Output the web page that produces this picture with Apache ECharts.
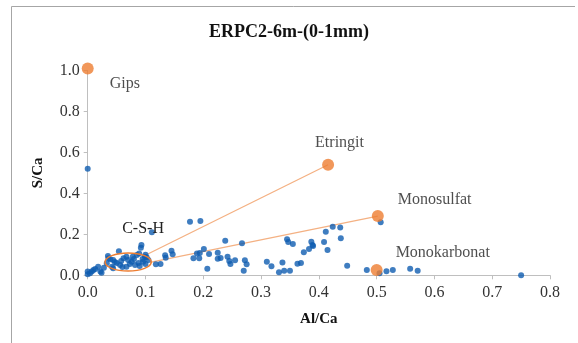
<!DOCTYPE html>
<html><head><meta charset="utf-8">
<script src="https://cdn.jsdelivr.net/npm/echarts@6/dist/echarts.min.js"></script>
<style>html,body{margin:0;padding:0;background:#fff}#c{width:578px;height:343px}</style>
</head><body><div id="c"></div>
<script>
const title = 'ERPC2-6m-(0-1mm)';
const xName = 'Al/Ca';
const yName = 'S/Ca';
const xTicks = {min: 0, max: 0.8, interval: 0.1};
const yTicks = {min: 0, max: 1.0, interval: 0.2};

const measured = [
  [0.0,0.005],[0.0,0.018],[0.004,0.01],[0.007,0.018],[0.01,0.026],[0.013,0.031],[0.018,0.042],
  [0.022,0.018],[0.024,0.012],[0.028,0.037],[0.033,0.059],[0.036,0.083],[0.035,0.094],[0.039,0.078],
  [0.042,0.042],[0.044,0.034],[0.044,0.075],[0.054,0.118],
  [0.056,0.05],[0.062,0.083],[0.067,0.091],[0.067,0.042],[0.076,0.066],[0.082,0.05],[0.085,0.099],
  [0.089,0.107],[0.092,0.135],[0.093,0.148],[0.099,0.091],[0.096,0.066],[0.105,0.075],
  [0.05,0.06],[0.058,0.07],[0.07,0.075],[0.073,0.055],[0.08,0.08],[0.088,0.06],[0.09,0.045],
  [0.1,0.055],[0.06,0.04],[0.047,0.065],[0.078,0.09],[0.095,0.08],[0.1,0.1],[0.102,0.088],
  [0.111,0.21],[0.118,0.054],[0.126,0.055],[0.134,0.098],[0.135,0.086],[0.145,0.12],[0.147,0.103],
  [0.177,0.262],[0.195,0.265],[0.183,0.083],[0.189,0.107],[0.193,0.083],[0.194,0.109],[0.201,0.128],
  [0.207,0.032],[0.21,0.104],[0.225,0.11],[0.225,0.081],[0.23,0.084],[0.238,0.169],[0.242,0.091],
  [0.245,0.07],[0.247,0.055],[0.255,0.073],[0.267,0.156],[0.272,0.073],[0.275,0.054],[0.27,0.022],
  [0.31,0.066],[0.318,0.044],[0.337,0.063],[0.331,0.015],[0.34,0.022],[0.35,0.022],[0.345,0.176],
  [0.347,0.163],[0.355,0.153],[0.363,0.057],[0.369,0.06],[0.374,0.112],[0.383,0.128],[0.387,0.164],
  [0.389,0.148],[0.39,0.143],[0.409,0.163],[0.412,0.213],[0.415,0.124],[0.424,0.237],[0.437,0.234],
  [0.438,0.181],[0.449,0.047],[0.483,0.026],[0.505,0.01],[0.507,0.259],[0.517,0.02],[0.528,0.026],
  [0.558,0.032],[0.571,0.022],[0.75,0.0],[0.0,0.52]
];

const phaseNames = ['Gips','Etringit','Monosulfat','Monokarbonat'];
const phaseX = [0.0, 0.416, 0.502, 0.5];
const phaseY = [1.01, 0.54, 0.289, 0.026];

// C-S-H ellipse: center x, center y, half-width, half-height (data units)
const cshEllipse = [0.07, 0.065, 0.04, 0.044];
const cshLabel = 'C-S-H';
// tie lines from the C-S-H region to phases
const tieStart1 = [0.104, 0.104];
const tieStart2 = [0.108, 0.063];

const labelOffsets = [[22,15],[-13,-22],[20,-16],[19,-17]];

const serif = '"Liberation Serif", "DejaVu Serif", serif';
const chart = echarts.init(document.getElementById('c'));
const phaseData = phaseNames.map((n,i)=>({
  name:n, value:[phaseX[i],phaseY[i]],
  label:{show:true, formatter:n, position:[labelOffsets[i][0]+6, labelOffsets[i][1]+6],
    align:'left', verticalAlign:'middle', fontFamily:serif, fontSize:16, color:'#222'}
}));

chart.setOption({
  animation:false,
  title:{text:title, left:'center', top:18, textStyle:{fontFamily:serif, fontSize:18, fontWeight:'bold', color:'#111'}},
  graphic:[{type:'polyline', shape:{points:[[11.5,343],[11.5,6.5],[575,6.5]]}, style:{stroke:'#a6a6a6', lineWidth:1, fill:null}, silent:true}],
  grid:{left:87.7, right:28, top:70.5, bottom:67.7},
  xAxis:{type:'value', min:xTicks.min, max:xTicks.max, interval:xTicks.interval,
    name:xName, nameLocation:'middle', nameGap:36,
    nameTextStyle:{fontFamily:serif, fontSize:15, fontWeight:'bold', color:'#111'},
    axisLine:{lineStyle:{color:'#bfbfbf', width:1}}, axisTick:{show:true, length:4, lineStyle:{color:'#bfbfbf'}},
    splitLine:{show:false},
    axisLabel:{fontFamily:serif, fontSize:16, color:'#333', margin:9, formatter:v=>v.toFixed(1)}},
  yAxis:{type:'value', min:yTicks.min, max:yTicks.max, interval:yTicks.interval,
    name:yName, nameLocation:'middle', nameGap:42, nameRotate:90,
    nameTextStyle:{fontFamily:serif, fontSize:15, fontWeight:'bold', color:'#111'},
    axisLine:{show:true, lineStyle:{color:'#bfbfbf', width:1}}, axisTick:{show:true, length:4, lineStyle:{color:'#bfbfbf'}},
    splitLine:{show:false},
    axisLabel:{fontFamily:serif, fontSize:16, color:'#333', margin:8, formatter:v=>v.toFixed(1)}},
  series:[
    {type:'line', data:[tieStart1,[phaseX[1],phaseY[1]]], symbol:'none', lineStyle:{color:'#F4B183', width:1.3}, z:1},
    {type:'line', data:[tieStart2,[phaseX[2],phaseY[2]]], symbol:'none', lineStyle:{color:'#F4B183', width:1.3}, z:1},
    {type:'scatter', data:measured, symbolSize:6, itemStyle:{color:'#0F5DB0'}, z:2},
    {type:'custom', data:[cshEllipse], z:3, renderItem:(params, api)=>{
      const c = api.coord([api.value(0), api.value(1)]);
      const s = api.size([api.value(2), api.value(3)]);
      return {type:'group', children:[
        {type:'ellipse', shape:{cx:c[0], cy:c[1], rx:s[0], ry:s[1]}, style:{fill:null, stroke:'#ED7D31', lineWidth:1.5}},
        {type:'text', x:c[0]-6, y:c[1]-33, style:{text:cshLabel, font:'16px '+serif, fill:'#222', verticalAlign:'middle', align:'left'}}
      ]};
    }},
    {type:'scatter', data:phaseData, symbolSize:12, clip:false, itemStyle:{color:'#ED7D31'}, z:4}
  ]
});
</script></body></html>
